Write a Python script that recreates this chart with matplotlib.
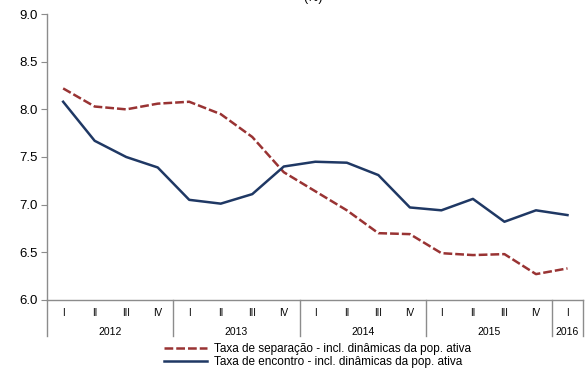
import matplotlib
matplotlib.use("Agg")
import matplotlib.pyplot as plt
import matplotlib.transforms as mtransforms

plt.rcParams['font.family'] = ['Liberation Sans', 'DejaVu Sans']

quarters = ['I', 'II', 'III', 'IV'] * 4 + ['I']
years = ['2012', '2013', '2014', '2015', '2016']
year_sizes = [4, 4, 4, 4, 1]

separacao = [8.22, 8.03, 8.00, 8.06, 8.08, 7.95, 7.71, 7.34, 7.14,
             6.94, 6.70, 6.69, 6.49, 6.47, 6.48, 6.27, 6.33]
encontro = [8.08, 7.67, 7.50, 7.39, 7.05, 7.01, 7.11, 7.40, 7.45,
            7.44, 7.31, 6.97, 6.94, 7.06, 6.82, 6.94, 6.89]

lab_sep = 'Taxa de separação - incl. dinâmicas da pop. ativa'
lab_enc = 'Taxa de encontro - incl. dinâmicas da pop. ativa'

red = '#993333'
navy = '#1f3864'
grey = '#8c8c8c'

fig = plt.figure(figsize=(5.85, 3.72), dpi=100)
ax = fig.add_axes([0.081, 0.194, 0.916, 0.768])

x = list(range(len(quarters)))
ax.plot(x, separacao, color=red, lw=1.8, dashes=(3.5, 1.2), label=lab_sep)
ax.plot(x, encontro, color=navy, lw=1.8, label=lab_enc)

ax.set_xlim(-0.5, len(quarters) - 0.5)
ax.set_ylim(6.0, 9.0)
ax.set_yticks([6.0, 6.5, 7.0, 7.5, 8.0, 8.5, 9.0])
ax.set_yticklabels(['%.1f' % v for v in ax.get_yticks()], fontsize=9.5)
ax.set_xticks(x)
ax.set_xticklabels(quarters, fontsize=7)
ax.tick_params(axis='x', length=0, pad=6)
ax.tick_params(axis='y', length=4, color=grey, width=0.8, pad=3)

for s in ['top', 'right']:
    ax.spines[s].set_visible(False)
for s in ['left', 'bottom']:
    ax.spines[s].set_color(grey)
    ax.spines[s].set_linewidth(1.0)

# year separators and labels under the quarters
trans = mtransforms.blended_transform_factory(ax.transData, ax.transAxes)
start = -0.5
ax.plot([start, start], [0, -0.126], color=grey, lw=1.0, transform=trans, clip_on=False)
for yr, n in zip(years, year_sizes):
    end = start + n
    ax.plot([end, end], [0, -0.126], color=grey, lw=1.0, transform=trans, clip_on=False)
    ax.text((start + end) / 2, -0.113, yr, transform=trans, ha='center', va='center', fontsize=7.5)
    start = end

ax.legend(loc='upper left', bbox_to_anchor=(164 / 585, 1 - 343 / 372), bbox_transform=fig.transFigure,
          frameon=False, fontsize=8.5, handlelength=3.65, handletextpad=0.55,
          labelspacing=0.12, borderpad=0, borderaxespad=0)

fig.text(313 / 585, 0.989, '(%)', ha='center', va='bottom', fontsize=9)

fig.savefig('out.png', dpi=100)
